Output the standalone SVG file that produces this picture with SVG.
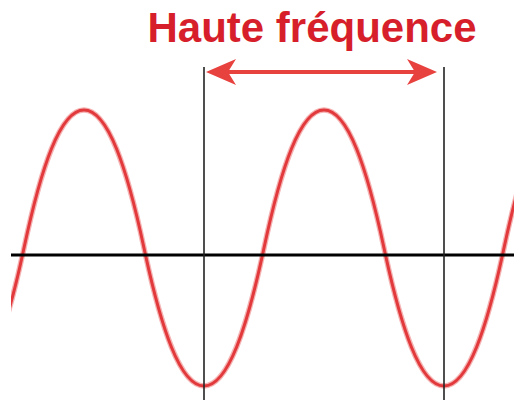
<svg xmlns="http://www.w3.org/2000/svg" width="514" height="400" viewBox="0 0 514 400">
  <style>
    .title { font-family: "Liberation Sans", Arial, sans-serif; font-weight: bold; font-size: 42px; fill: #d61f2b; }
    .wave { fill: none; stroke: #e23a3c; stroke-width: 3; stroke-linejoin: round; }
    .wave-glow { fill: none; stroke: #f5b3b3; stroke-width: 5.5; }
    .axis { stroke: #000; stroke-width: 3; }
    .guide { stroke: #222; stroke-width: 1.6; }
    .arrow { stroke: #e8423f; stroke-width: 4; fill: none; }
  </style>
  <defs>
    <marker id="head" markerUnits="userSpaceOnUse" markerWidth="31" markerHeight="29" viewBox="0 0 31 29" refX="22" refY="14" orient="auto-start-reverse">
      <path d="M0,1 L30,14 L0,27 L8,14 Z" fill="#e8423f"/>
    </marker>
    <clipPath id="clipWave">
      <rect x="11" y="0" width="503" height="400"/>
    </clipPath>
  </defs>
  <rect width="514" height="400" fill="#fff"/>

  <g id="wave" clip-path="url(#clipWave)">
    <path class="wave-glow" d="M -36 386 C -12 386, 7 328, 24 248 C 41 168, 60 110, 84 110 C 108 110, 127 168, 144 248 C 161 328, 180 386, 204 386 C 228 386, 247 328, 264 248 C 281 168, 300 110, 324 110 C 348 110, 367 168, 384 248 C 401 328, 420 386, 444 386 C 468 386, 487 328, 504 248 C 521 168, 540 110, 564 110"/>
    <path class="wave" d="M -36 386 C -12 386, 7 328, 24 248 C 41 168, 60 110, 84 110 C 108 110, 127 168, 144 248 C 161 328, 180 386, 204 386 C 228 386, 247 328, 264 248 C 281 168, 300 110, 324 110 C 348 110, 367 168, 384 248 C 401 328, 420 386, 444 386 C 468 386, 487 328, 504 248 C 521 168, 540 110, 564 110"/>
  </g>

  <g id="axis">
    <line class="axis" x1="11" y1="255" x2="514" y2="255"/>
  </g>

  <g id="guides">
    <line class="guide" x1="204" y1="67" x2="204" y2="400"/>
    <line class="guide" x1="444" y1="67" x2="444" y2="400"/>
  </g>

  <g id="connectors">
    <line class="arrow" x1="214" y1="72" x2="429" y2="72" marker-start="url(#head)" marker-end="url(#head)"/>
  </g>

  <g id="title">
    <text class="title" x="312" y="42" text-anchor="middle">Haute fréquence</text>
  </g>
</svg>
